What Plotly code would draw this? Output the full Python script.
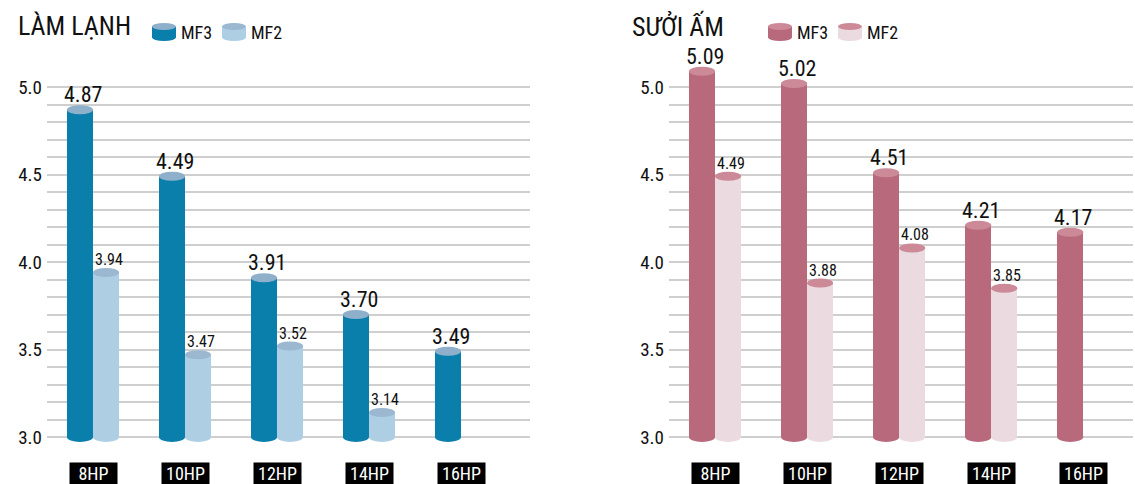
import plotly.graph_objects as go

# Data
categories = ["8HP", "10HP", "12HP", "14HP", "16HP"]
cool_mf3 = [4.87, 4.49, 3.91, 3.70, 3.49]
cool_mf2 = [3.94, 3.47, 3.52, 3.14, None]
heat_mf3 = [5.09, 5.02, 4.51, 4.21, 4.17]
heat_mf2 = [4.49, 3.88, 4.08, 3.85, None]
y_tick_labels = ["3.0", "3.5", "4.0", "4.5", "5.0"]
series_names = ["MF3", "MF2"]
panel_titles = ["LÀM LẠNH", "SƯỞI ẤM"]

W, H = 1135, 484
FONT = "Liberation Sans Narrow, Arial Narrow, Roboto Condensed, Liberation Sans, sans-serif"

# colours: (body, top cap)
COOL = [("#0a7fab", "#8fb0cb"), ("#aecfe3", "#9bb8d0")]
HEAT = [("#b8697c", "#cc8a99"), ("#ebdbe0", "#cc8a99")]

BASE = 3.0
BAR_W = 0.283
OFFSETS = [-BAR_W, 0.0]
CAP_PX = 9

def px(x):
    return x / W

def py(y):
    return 1 - y / H

fig = go.Figure()

panels = [
    dict(ax="", vals=[cool_mf3, cool_mf2], cols=COOL, dom=[px(47), px(530)], xr=[-0.5, 4.75],
         title_x=18, leg_x=152),
    dict(ax="2", vals=[heat_mf3, heat_mf2], cols=HEAT, dom=[px(669), px(1133)], xr=[-0.5, 4.54],
         title_x=632, leg_x=768),
]

y_dom = [py(460), py(40)]
y_range = [BASE - (460 - 437) / 175, 5.0 + (87 - 40) / 175]
grid_vals = [round(3.0 + 0.1 * k, 1) for k in range(21)]
grid_text = [f"{v:.1f}" if f"{v:.1f}" in y_tick_labels else "" for v in grid_vals]

shapes = []
annotations = []

for p_i, p in enumerate(panels):
    xa = "x" + p["ax"]
    ya = "y" + p["ax"]
    for s_i, vals in enumerate(p["vals"]):
        body, cap = p["cols"][s_i]
        idx = [i for i, v in enumerate(vals) if v is not None]
        xs = [categories[i] for i in idx]
        ys = [vals[i] - BASE for i in idx]
        fig.add_trace(go.Bar(
            x=xs, y=ys, base=BASE, width=BAR_W, offset=OFFSETS[s_i],
            marker=dict(color=body, line=dict(width=0)),
            name=series_names[s_i], showlegend=False, xaxis=xa, yaxis=ya,
            cliponaxis=False, hoverinfo="skip",
        ))
        for i in idx:
            v = vals[i]
            x0 = i + OFFSETS[s_i]
            x1 = x0 + BAR_W
            # rounded bottom
            shapes.append(dict(type="circle", xref=xa, yref=ya, x0=x0, x1=x1,
                               ysizemode="pixel", yanchor=BASE, y0=-5, y1=5,
                               fillcolor=body, line=dict(width=0), layer="above"))
            # top cap
            shapes.append(dict(type="circle", xref=xa, yref=ya, x0=x0, x1=x1,
                               ysizemode="pixel", yanchor=v, y0=-CAP_PX / 2, y1=CAP_PX / 2,
                               fillcolor=cap, line=dict(width=0), layer="above"))
            big = s_i == 0
            annotations.append(dict(
                xref=xa, yref=ya, x=x0 + BAR_W / 2, y=v, xshift=3,
                yshift=CAP_PX / 2 - 4 if big else CAP_PX / 2 - 3,
                yanchor="bottom", xanchor="center", showarrow=False,
                text=f"{v:.2f}",
                font=dict(family=FONT, size=22 if big else 16, color="#111111"),
            ))

    for i, c in enumerate(categories):
        annotations.append(dict(
            xref=xa, yref="paper", x=i, y=py(473), yanchor="middle", xanchor="center",
            showarrow=False, text=c, bgcolor="#000000", width=43, height=17, borderpad=2,
            align="center", font=dict(family=FONT, size=18, color="#ffffff"),
        ))

    # panel title
    annotations.append(dict(
        xref="paper", yref="paper", x=px(p["title_x"] - 2), y=py(26), xanchor="left",
        yanchor="middle", showarrow=False, text=panel_titles[p_i],
        font=dict(family=FONT, size=26, color="#111111"),
    ))

    # legend: small cylinder icons + series names
    lx = p["leg_x"]
    for s_i, name in enumerate(series_names):
        body, cap = p["cols"][s_i]
        x0 = lx + s_i * 70
        x1 = x0 + 24
        shapes.append(dict(type="rect", xref="paper", yref="paper",
                           x0=px(x0), x1=px(x1), y0=py(37.5), y1=py(26.5),
                           fillcolor=body, line=dict(width=0)))
        shapes.append(dict(type="circle", xref="paper", yref="paper",
                           x0=px(x0), x1=px(x1), y0=py(41), y1=py(34),
                           fillcolor=body, line=dict(width=0)))
        shapes.append(dict(type="circle", xref="paper", yref="paper",
                           x0=px(x0), x1=px(x1), y0=py(30), y1=py(23),
                           fillcolor=cap, line=dict(width=0)))
        annotations.append(dict(
            xref="paper", yref="paper", x=px(x1 + 3), y=py(32), xanchor="left",
            yanchor="middle", showarrow=False, text=name,
            font=dict(family=FONT, size=18, color="#111111"),
        ))

    axis_common = dict(showline=False, zeroline=False)
    fig.update_layout({
        "xaxis" + p["ax"]: dict(domain=p["dom"], range=p["xr"], type="category",
                                categoryorder="array", categoryarray=categories,
                                showticklabels=False, showgrid=False, anchor=ya,
                                fixedrange=True, **axis_common),
        "yaxis" + p["ax"]: dict(domain=y_dom, range=y_range, anchor=xa,
                                tickmode="array", tickvals=grid_vals, ticktext=grid_text,
                                showgrid=True, gridcolor="#cfcfcf", gridwidth=1.5,
                                ticks="", ticklabelstandoff=4,
                                tickfont=dict(family=FONT, size=19, color="#111111"),
                                fixedrange=True, **axis_common),
    })

fig.update_layout(
    width=W, height=H, margin=dict(l=0, r=0, t=0, b=0),
    paper_bgcolor="#ffffff", plot_bgcolor="#ffffff",
    barmode="overlay", bargap=0, showlegend=False,
    shapes=shapes, annotations=annotations,
    font=dict(family=FONT),
)

fig.write_html("out.html")
